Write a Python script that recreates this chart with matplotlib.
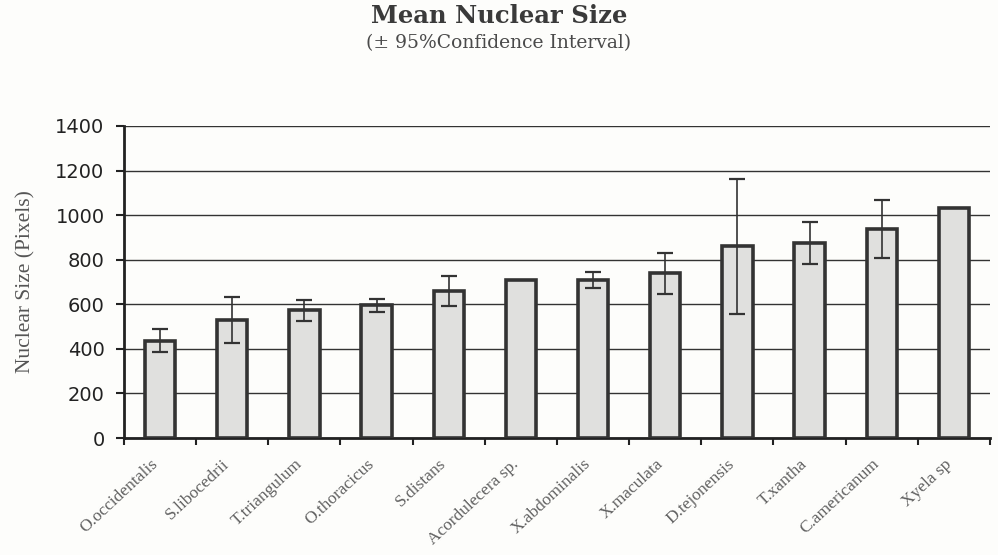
import matplotlib
matplotlib.use('Agg')
import matplotlib.pyplot as plt
import numpy as np

species = ['O.occidentalis', 'S.libocedrii', 'T.triangulum', 'O.thoracicus',
           'S.distans', 'Acordulecera sp.', 'X.abdominalis', 'X.maculata',
           'D.tejonensis', 'T.xantha', 'C.americanum', 'Xyela sp']
mean_size = [436, 529, 573, 595, 659, 707, 710, 739, 861, 876, 939, 1033]
ci95 = [51, 103, 48, 30, 66, 0, 36, 93, 303, 94, 130, 0]
yticks = [0, 200, 400, 600, 800, 1000, 1200, 1400]

fig = plt.figure(figsize=(9.98, 5.55), dpi=100, facecolor='#fdfdfb')
ax = fig.add_axes([0.1242, 0.2108, 0.8678, 0.5622])
ax.set_facecolor('#fdfdfb')

x = np.arange(len(species))
ax.bar(x, mean_size, width=0.42, color='#e0e0de', edgecolor='#333333',
       linewidth=2.6, zorder=3)
# no whiskers where the CI is missing
err = np.array(ci95, dtype=float)
mask = err > 0
ax.errorbar(x[mask], np.array(mean_size)[mask], yerr=err[mask], fmt='none',
            ecolor='#333333', elinewidth=1.2, capsize=6, capthick=1.6, zorder=4)

ax.set_xlim(-0.5, len(species) - 0.5)
ax.set_ylim(0, 1400)
ax.set_yticks(yticks)
ax.set_yticklabels([str(v) for v in yticks], fontfamily='DejaVu Sans',
                   fontsize=14, color='#222222')
ax.yaxis.grid(True, color='#333333', linewidth=1.0, zorder=0)
ax.set_axisbelow(True)

# category ticks sit on the boundaries, labels (invisible ticks) a bit left of center
ax.set_xticks(np.arange(len(species) + 1) - 0.5, minor=False)
ax.set_xticklabels([])
ax.set_xticks(x - 0.14, minor=True)
ax.set_xticklabels(species, minor=True, rotation=43, ha='right',
                   rotation_mode='anchor', fontfamily='Liberation Serif',
                   fontsize=12.5, color='#606060')
ax.tick_params(axis='x', which='minor', length=0, pad=13)
ax.tick_params(axis='x', which='major', length=5, width=1.5, color='#222222')
ax.tick_params(axis='y', length=6, width=1.5, color='#222222', pad=8)

for s in ['top', 'right']:
    ax.spines[s].set_visible(False)
for s in ['left', 'bottom']:
    ax.spines[s].set_linewidth(2)
    ax.spines[s].set_color('#222222')

ax.set_ylabel('Nuclear Size (Pixels)', fontfamily='Liberation Serif',
              fontsize=15.5, color='#555555', labelpad=14)

fig.text(0.5, 0.972, 'Mean Nuclear Size', ha='center', va='center',
         fontfamily='DejaVu Serif', fontweight='bold', fontsize=17.5,
         color='#3a3a3a')
fig.text(0.5, 0.923, '(± 95%Confidence Interval)', ha='center', va='center',
         fontfamily='DejaVu Serif', fontsize=13.5, color='#4a4a4a')

fig.savefig('out.png', dpi=100, facecolor=fig.get_facecolor())
